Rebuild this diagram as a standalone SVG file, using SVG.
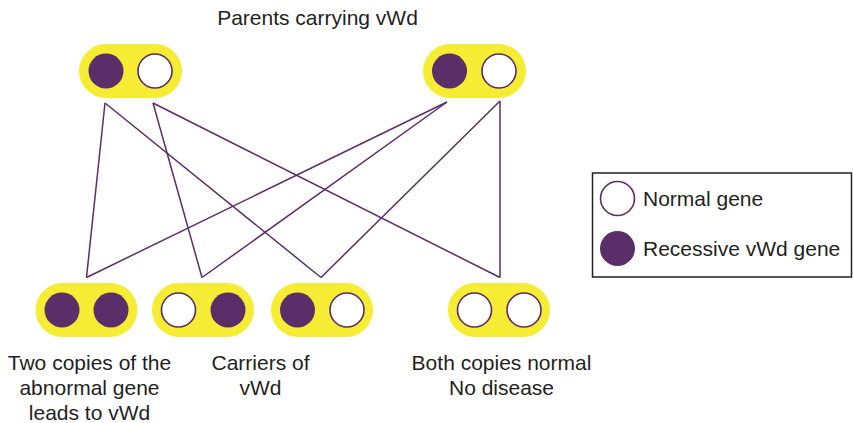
<svg xmlns="http://www.w3.org/2000/svg" width="853" height="423" viewBox="0 0 853 423">
<style>
.pill{fill:#f5ec33}
.rec{fill:#5b2d69}
.nor{fill:#fff;stroke:#5b2d69;stroke-width:1.6}
.lnk{stroke:#5b2d69;stroke-width:1.5;fill:none}
.t{font-family:"Liberation Sans",Arial,sans-serif;font-size:21px;fill:#231f20}
.m{text-anchor:middle}
</style>
<rect width="853" height="423" fill="#fff"/>
<text class="t m" x="317.5" y="25">Parents carrying vWd</text>
<g id="connectors">
<line class="lnk" x1="105" y1="103" x2="86.5" y2="277.5"/>
<line class="lnk" x1="105" y1="103" x2="321" y2="277.5"/>
<line class="lnk" x1="153" y1="103" x2="202" y2="277.5"/>
<line class="lnk" x1="153" y1="103" x2="500" y2="277.5"/>
<line class="lnk" x1="447" y1="102" x2="86.5" y2="277.5"/>
<line class="lnk" x1="447" y1="102" x2="202" y2="277.5"/>
<line class="lnk" x1="500" y1="101" x2="321" y2="277.5"/>
<line class="lnk" x1="500" y1="101" x2="500" y2="277.5"/>
</g>
<g id="parent1">
<rect class="pill" x="79" y="44" width="103" height="54" rx="27"/>
<circle class="rec" cx="106" cy="71" r="17.5"/>
<circle class="nor" cx="155" cy="71" r="17"/>
</g>
<g id="parent2">
<rect class="pill" x="423" y="44" width="103" height="54" rx="27"/>
<circle class="rec" cx="449.5" cy="71" r="17.5"/>
<circle class="nor" cx="499" cy="71" r="17"/>
</g>
<g id="child1">
<rect class="pill" x="35.5" y="283" width="102" height="54" rx="27"/>
<circle class="rec" cx="62" cy="310" r="17.5"/>
<circle class="rec" cx="111" cy="310" r="17.5"/>
</g>
<g id="child2">
<rect class="pill" x="152" y="283" width="102" height="54" rx="27"/>
<circle class="nor" cx="178.5" cy="310" r="17"/>
<circle class="rec" cx="228" cy="310" r="17.5"/>
</g>
<g id="child3">
<rect class="pill" x="271" y="283" width="102" height="54" rx="27"/>
<circle class="rec" cx="297.5" cy="310" r="17.5"/>
<circle class="nor" cx="347" cy="310" r="17"/>
</g>
<g id="child4">
<rect class="pill" x="448" y="283" width="102" height="54" rx="27"/>
<circle class="nor" cx="474.5" cy="310" r="17"/>
<circle class="nor" cx="524" cy="310" r="17"/>
</g>
<g id="label1">
<text class="t m" x="89.5" y="370">Two copies of the</text>
<text class="t m" x="89.5" y="395">abnormal gene</text>
<text class="t m" x="89.5" y="420">leads to vWd</text>
</g>
<g id="label2">
<text class="t m" x="260.5" y="370">Carriers of</text>
<text class="t m" x="260.5" y="395">vWd</text>
</g>
<g id="label3">
<text class="t m" x="501.5" y="370">Both copies normal</text>
<text class="t m" x="501.5" y="395">No disease</text>
</g>
<g id="legend">
<rect x="592.5" y="173" width="259" height="104" fill="#fff" stroke="#231f20" stroke-width="1.5"/>
<circle class="nor" cx="617.5" cy="198.5" r="17"/>
<text class="t" x="643" y="206">Normal gene</text>
<circle class="rec" cx="617.5" cy="248.5" r="17.5"/>
<text class="t" x="643" y="256">Recessive vWd gene</text>
</g>
</svg>
